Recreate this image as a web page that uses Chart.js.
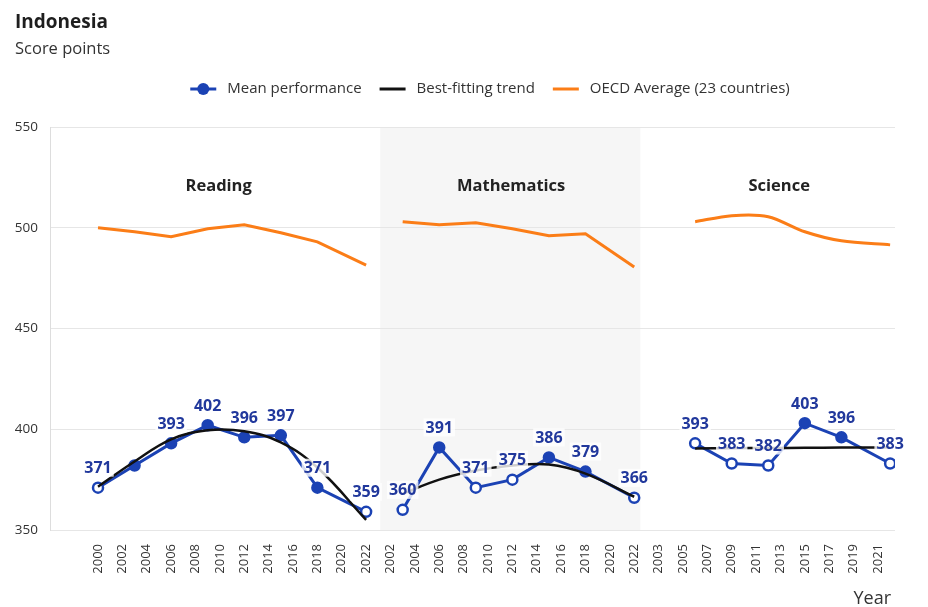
<!DOCTYPE html>
<html><head><meta charset="utf-8">
<script src="https://cdn.jsdelivr.net/npm/chart.js@4.4.1/dist/chart.umd.min.js"></script>
<style>
html,body{margin:0;padding:0;background:#fff;}
#wrap{position:relative;width:928px;height:607px;font-family:'Open Sans',sans-serif;color:#222;}
#title{position:absolute;left:15px;top:8px;font-size:19px;font-weight:700;color:#1e1e1e;}
#sub{position:absolute;left:15px;top:36px;font-size:16.5px;color:#333;}
#year{position:absolute;right:37px;top:585px;font-size:18px;color:#333;}
canvas{position:absolute;left:0;top:0;}
</style></head><body>
<div id="wrap"><canvas id="c" width="928" height="607"></canvas><div id="title">Indonesia</div><div id="sub">Score points</div><div id="year">Year</div></div>
<script>
// ---- tick labels per panel ----
const readingTicks = ['2000','2002','2004','2006','2008','2010','2012','2014','2016','2018','2020','2022'];
const mathTicks = ['2002','2004','2006','2008','2010','2012','2014','2016','2018','2020','2022'];
const scienceTicks = ['2003','2005','2007','2009','2011','2013','2015','2017','2019','2021'];
const panelNames = ['Reading','Mathematics','Science'];

// ---- Reading ----
const readingYears  = [2000,2003,2006,2009,2012,2015,2018,2022];
const readingMean   = [371,382,393,402,396,397,371,359];
const readingFilled = [false,true,true,true,true,true,true,false];
const readingTrend  = [371.5,384,395,399.5,399,393.5,381,355];
const readingOecd   = [500,498,495.5,499.5,501.5,497.5,493,481.5];
const readingHiddenLabels = [2003];

// ---- Mathematics ----
const mathYears  = [2003,2006,2009,2012,2015,2018,2022];
const mathMean   = [360,391,371,375,386,379,366];
const mathFilled = [false,true,false,false,true,true,false];
const mathTrend  = [368,375,379.5,382,382.5,378,366.5];
const mathOecd   = [503,501.5,502.5,499.5,496,497,480.5];

// ---- Science ----
const scienceYears  = [2006,2009,2012,2015,2018,2022];
const scienceMean   = [393,383,382,403,396,383];
const scienceFilled = [false,false,false,true,true,false];
const scienceTrend  = [390.5,390.6,390.7,390.8,390.9,391];
const scienceOecd   = [503,506,505.5,498,493.5,491.5];

// ---- styling ----
const BLUE = '#1b42b4', LABEL = '#21389c', BLACK = '#111111', ORANGE = '#fb7d17';
const FONT = "'Open Sans', sans-serif";
Chart.defaults.font.family = FONT;

const allTicks = readingTicks.concat(mathTicks, scienceTicks);
const panelStart = [
  {offset: 0, year: +readingTicks[0]},
  {offset: readingTicks.length, year: +mathTicks[0]},
  {offset: readingTicks.length + mathTicks.length, year: +scienceTicks[0]}
];
const pos = (p, year) => panelStart[p].offset + (year - panelStart[p].year) / 2;
const pts = (p, years, vals) => years.map((y, i) => ({x: pos(p, y), y: vals[i]}));

function meanDs(p, years, vals, filled, hidden) {
  return {
    label: 'Mean performance', data: pts(p, years, vals), borderColor: BLUE, borderWidth: 3,
    pointBackgroundColor: filled.map(f => f ? BLUE : '#ffffff'), pointBorderColor: BLUE,
    pointBorderWidth: 2.5, pointRadius: 5, tension: 0, order: 1, showValues: true,
    hideLabel: years.map(y => (hidden || []).includes(y))
  };
}
function trendDs(p, years, vals) {
  return {label: 'Best-fitting trend', data: pts(p, years, vals), borderColor: BLACK, borderWidth: 2.5,
    pointRadius: 0, tension: 0.4, order: 0};
}
function oecdDs(p, years, vals, t) {
  return {label: 'OECD Average (23 countries)', data: pts(p, years, vals), borderColor: ORANGE, borderWidth: 3,
    pointRadius: 0, tension: t, order: 2};
}

const datasets = [
  trendDs(0, readingYears, readingTrend), trendDs(1, mathYears, mathTrend), trendDs(2, scienceYears, scienceTrend),
  meanDs(0, readingYears, readingMean, readingFilled, readingHiddenLabels),
  meanDs(1, mathYears, mathMean, mathFilled, []),
  meanDs(2, scienceYears, scienceMean, scienceFilled, []),
  oecdDs(0, readingYears, readingOecd, 0), oecdDs(1, mathYears, mathOecd, 0), oecdDs(2, scienceYears, scienceOecd, 0.3)
];

const decor = {
  id: 'decor',
  beforeDraw(chart) {
    const {ctx, chartArea: a, scales: {x}} = chart;
    const l = x.getPixelForValue(panelStart[1].offset - 0.42), r = x.getPixelForValue(panelStart[2].offset - 0.75);
    ctx.save();
    ctx.fillStyle = '#f6f6f6';
    ctx.fillRect(l, a.top, r - l, a.bottom - a.top);
    ctx.restore();
  },
  beforeDatasetsDraw(chart) {
    const {ctx, scales: {x}} = chart;
    ctx.save();
    ctx.font = "bold 16.5px " + FONT;
    ctx.fillStyle = '#222';
    ctx.textAlign = 'center'; ctx.textBaseline = 'middle';
    panelNames.forEach((n, i) => ctx.fillText(n, x.getPixelForValue(panelStart[i].offset + 4.95), 186));
    ctx.restore();
  },
  afterDatasetsDraw(chart) {
    const {ctx} = chart;
    ctx.save();
    ctx.font = "bold 16px " + FONT;
    ctx.textAlign = 'center'; ctx.textBaseline = 'middle';
    chart.data.datasets.forEach((ds, i) => {
      if (!ds.showValues) return;
      chart.getDatasetMeta(i).data.forEach((pt, j) => {
        if (ds.hideLabel[j]) return;
        const txt = String(ds.data[j].y);
        const w = ctx.measureText(txt).width;
        const cx = pt.x, cy = pt.y - 20;
        ctx.fillStyle = 'rgba(255,255,255,0.8)';
        ctx.fillRect(cx - w / 2 - 2, cy - 9, w + 4, 18);
        ctx.fillStyle = LABEL;
        ctx.fillText(txt, cx, cy + 1);
      });
    });
    ctx.restore();
  },
  afterDraw(chart) {
    const {ctx} = chart;
    const items = [
      {t: 'Mean performance', c: BLUE, dot: true},
      {t: 'Best-fitting trend', c: BLACK},
      {t: 'OECD Average (23 countries)', c: ORANGE}
    ];
    ctx.save();
    ctx.font = "15px " + FONT;
    const sw = 26, gap = 11, itemGap = 18, cy = 89;
    const widths = items.map(it => ctx.measureText(it.t).width);
    const total = widths.reduce((s, w) => s + sw + gap + w, 0) + itemGap * (items.length - 1);
    let xx = 490 - total / 2;
    items.forEach((it, i) => {
      ctx.strokeStyle = it.c; ctx.lineWidth = 3;
      ctx.beginPath(); ctx.moveTo(xx, cy); ctx.lineTo(xx + sw, cy); ctx.stroke();
      if (it.dot) {
        ctx.fillStyle = it.c; ctx.beginPath(); ctx.arc(xx + sw / 2, cy, 6, 0, Math.PI * 2); ctx.fill();
      }
      ctx.fillStyle = '#333'; ctx.textAlign = 'left'; ctx.textBaseline = 'middle';
      ctx.fillText(it.t, xx + sw + gap, cy);
      xx += sw + gap + widths[i] + itemGap;
    });
    ctx.restore();
  }
};

new Chart(document.getElementById('c'), {
  type: 'line',
  data: {datasets},
  plugins: [decor],
  options: {
    responsive: false, animation: false, devicePixelRatio: 1,
    layout: {padding: {top: 127, right: 33, left: 0, bottom: 0}},
    plugins: {legend: {display: false}, tooltip: {enabled: false}},
    scales: {
      x: {
        type: 'linear', min: -1.97, max: 32.7,
        afterBuildTicks(s) { s.ticks = allTicks.map((_, i) => ({value: i})); },
        afterFit(s) { s.height = 77; },
        ticks: {autoSkip: false, minRotation: 90, maxRotation: 90, padding: 14,
          color: '#333', font: {size: 13},
          callback: (v) => allTicks[Math.round(v)] ?? ''},
        grid: {display: false, drawTicks: false},
        border: {display: false}
      },
      y: {
        min: 350, max: 550,
        afterFit(s) { s.width = 50; },
        ticks: {stepSize: 50, padding: 12, color: '#333', font: {size: 13.5}},
        grid: {color: '#e6e6e6', drawTicks: false},
        border: {color: '#dddddd'}
      }
    }
  }
});
</script>
</body></html>
